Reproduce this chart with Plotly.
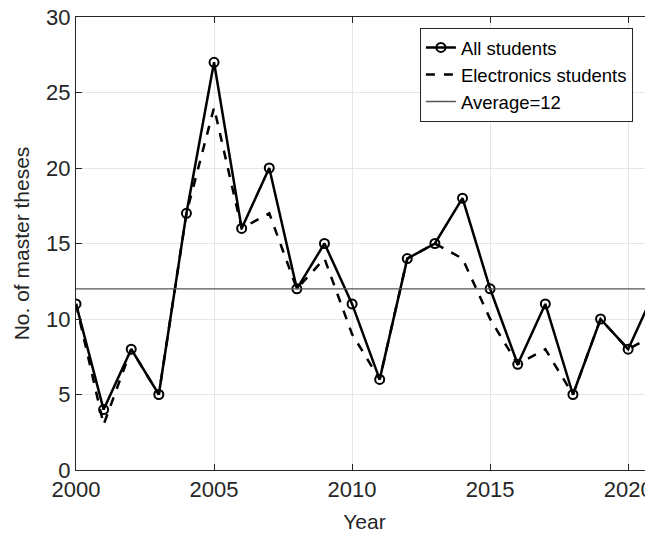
import plotly.graph_objects as go

years = list(range(2000, 2022))
all_students = [11, 4, 8, 5, 17, 27, 16, 20, 12, 15, 11, 6, 14, 15, 18, 12, 7, 11, 5, 10, 8, 12]
electronics_students = [11, 3, 8, 5, 17, 24, 16, 17, 12, 14, 9, 6, 14, 15, 14, 10, 7, 8, 5, 10, 8, 9]
average_value = 12
average_x = [2000, 2021]
x_ticks = [2000, 2005, 2010, 2015, 2020]
y_ticks = [0, 5, 10, 15, 20, 25, 30]

FONT = "Liberation Sans, Arial, Helvetica, sans-serif"
TXT = "#262626"

fig = go.Figure()
fig.add_trace(go.Scatter(
    x=years, y=all_students, name="All students", mode="lines+markers",
    line=dict(color="black", width=2.5),
    marker=dict(symbol="circle-open", size=9, color="black", line=dict(width=2, color="black")),
))
fig.add_trace(go.Scatter(
    x=years, y=electronics_students, name="Electronics students", mode="lines",
    line=dict(color="black", width=2.5, dash="dash"),
))
fig.add_trace(go.Scatter(
    x=average_x, y=[average_value] * len(average_x), name=f"Average={average_value}", mode="lines",
    line=dict(color="#555555", width=1.3),
))

# page body has an 8px margin, so the figure is sized to fit the 653x535 window
fig.update_layout(
    width=645, height=527,
    margin=dict(l=68, r=0, t=9, b=65),
    paper_bgcolor="white", plot_bgcolor="white",
    font=dict(family=FONT, color=TXT),
    showlegend=True,
    legend=dict(
        x=0.596, y=0.976, xanchor="left", yanchor="top",
        bgcolor="white", bordercolor=TXT, borderwidth=1,
        font=dict(size=18.5, color="black", family=FONT),
        tracegroupgap=0, itemwidth=30,
    ),
)
fig.update_xaxes(
    range=[2000, 2020.9], tickvals=x_ticks, ticktext=[str(v) for v in x_ticks],
    tickfont=dict(size=22, color=TXT, family=FONT),
    ticks="inside", ticklen=6, tickcolor=TXT, tickwidth=1,
    showline=True, linecolor=TXT, linewidth=1, mirror="ticks",
    showgrid=True, gridcolor="#e6e6e6", gridwidth=1, zeroline=False,
    automargin=False, ticklabeloverflow="allow",
    title=dict(text="Year", font=dict(size=21, color=TXT, family=FONT), standoff=12),
)
fig.update_yaxes(
    range=[0, 30], tickvals=y_ticks,
    tickfont=dict(size=22, color=TXT, family=FONT),
    ticks="inside", ticklen=6, tickcolor=TXT, tickwidth=1,
    showline=True, linecolor=TXT, linewidth=1, mirror="ticks",
    showgrid=True, gridcolor="#e6e6e6", gridwidth=1, zeroline=False,
    automargin=False, ticklabeloverflow="allow",
    title=dict(text="No. of master theses", font=dict(size=21, color=TXT, family=FONT), standoff=10),
)

fig.write_html("out.html")
